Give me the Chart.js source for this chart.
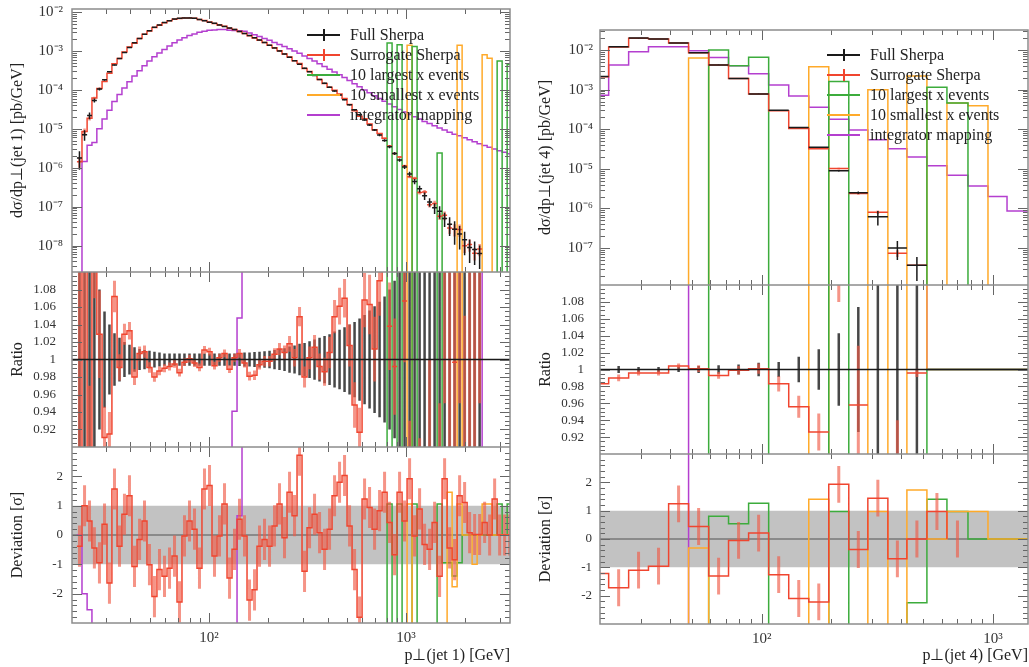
<!DOCTYPE html>
<html lang="en">
<head>
<meta charset="utf-8">
<title>Jet pT: full vs surrogate Sherpa</title>
<script src="https://cdn.jsdelivr.net/npm/chart.js@4.4.1/dist/chart.umd.min.js"></script>
<style>
  html, body { margin: 0; padding: 0; background: #fff; }
  body { position: relative; width: 1029px; height: 667px; overflow: hidden; font-family: "Liberation Serif", "Times New Roman", serif; }
  canvas { position: absolute; }
  .legend { position: absolute; font-size: 16px; color: #222; }
  .legend div { position: relative; height: 20px; line-height: 20px; padding-left: 43px; white-space: nowrap; }
  .legend i { position: absolute; left: 0; top: 9px; width: 33px; border-top: 2px solid; }
  .legend b { position: absolute; left: 16px; top: 4px; height: 12px; border-left: 2px solid; }
</style>
</head>
<body>
<canvas id="leftMain" width="512" height="272" style="left:0;top:0"></canvas>
<canvas id="leftRatio" width="512" height="175" style="left:0;top:272px"></canvas>
<canvas id="leftDev" width="512" height="220" style="left:0;top:447px"></canvas>
<canvas id="rightMain" width="501" height="285" style="left:528px;top:0"></canvas>
<canvas id="rightRatio" width="501" height="169" style="left:528px;top:285px"></canvas>
<canvas id="rightDev" width="501" height="213" style="left:528px;top:454px"></canvas>

<div class="legend" style="left:307px;top:25px">
  <div><i style="border-color:#1a1a1a"></i><b style="border-color:#1a1a1a"></b>Full Sherpa</div>
  <div><i style="border-color:#f0452f"></i><b style="border-color:#f0452f"></b>Surrogate Sherpa</div>
  <div><i style="border-color:#3cac3c"></i>10 largest x events</div>
  <div><i style="border-color:#ffaa2a"></i>10 smallest x events</div>
  <div><i style="border-color:#b43fcf"></i>integrator mapping</div>
</div>
<div class="legend" style="left:827px;top:45px">
  <div><i style="border-color:#1a1a1a"></i><b style="border-color:#1a1a1a"></b>Full Sherpa</div>
  <div><i style="border-color:#f0452f"></i><b style="border-color:#f0452f"></b>Surrogate Sherpa</div>
  <div><i style="border-color:#3cac3c"></i>10 largest x events</div>
  <div><i style="border-color:#ffaa2a"></i>10 smallest x events</div>
  <div><i style="border-color:#b43fcf"></i>integrator mapping</div>
</div>

<script>
// ---- jet 1 (left) : bin edges in GeV, values per bin ----
const leftEdges = [
  21.4, 22.7, 24.1, 25.5, 27.0, 28.7, 30.4, 32.2, 34.2, 36.2,
  38.4, 40.7, 43.2, 45.8, 48.5, 51.4, 54.5, 57.8, 61.3, 65.0,
  68.9, 73.0, 77.4, 82.1, 87.0, 92.2, 97.8, 103.7, 109.9, 116.5,
  123.6, 131.0, 138.9, 147.2, 156.1, 165.5, 175.4, 186.0, 197.2, 209.0,
  221.6, 234.9, 249.1, 264.1, 280.0, 296.8, 314.7, 333.6, 353.7, 375.0,
  397.6, 421.5, 446.9, 473.7, 502.2, 532.5, 564.5, 598.5, 634.5, 672.7,
  713.2, 756.1, 801.6, 849.8, 901.0, 955.2, 1012.7, 1073.7, 1138.3, 1206.8,
  1279.4, 1356.4, 1438.1, 1524.6, 1616.4, 1713.7, 1816.8, 1926.2, 2042.1, 2165.0,
  2295.3, 2433.5, 2580.0, 2735.2, 2899.9, 3074.4, 3259.5, 3455.7
];
const leftFull = [
  1.78e-6, 7.08e-6, 2.19e-5, 5.37e-5, 1.05e-4, 1.82e-4, 2.95e-4, 4.37e-4, 6.46e-4, 9.12e-4,
  1.23e-3, 1.62e-3, 2.09e-3, 2.69e-3, 3.31e-3, 4.07e-3, 4.68e-3, 5.37e-3, 6.03e-3, 6.61e-3,
  6.92e-3, 7.08e-3, 7.08e-3, 6.92e-3, 6.46e-3, 6.03e-3, 5.5e-3, 5.13e-3, 4.68e-3, 4.27e-3,
  3.89e-3, 3.55e-3, 3.16e-3, 2.82e-3, 2.51e-3, 2.19e-3, 1.91e-3, 1.66e-3, 1.41e-3, 1.2e-3,
  1.0e-3, 8.32e-4, 6.92e-4, 5.62e-4, 4.57e-4, 3.63e-4, 2.95e-4, 2.34e-4, 1.86e-4, 1.48e-4,
  1.17e-4, 9.33e-5, 7.41e-5, 5.62e-5, 4.17e-5, 3.09e-5, 2.29e-5, 1.7e-5, 1.26e-5, 9.33e-6,
  6.92e-6, 5.01e-6, 3.47e-6, 2.34e-6, 1.58e-6, 1.05e-6, 6.92e-7, 4.47e-7, 2.88e-7, 1.91e-7,
  1.32e-7, 9.33e-8, 7.59e-8, 5.01e-8, 3.55e-8, 2.63e-8, 2.0e-8, 1.41e-8, 8.91e-9, 7.94e-9,
  6.31e-9, 0, 0, 0, 0, 0, 0
];
const leftFullErr = [
  0.5, 0.3, 0.2, 0.12, 0.08, 0.055, 0.04, 0.03, 0.025, 0.02,
  0.017, 0.014, 0.012, 0.011, 0.01, 0.009, 0.008, 0.007, 0.007, 0.007,
  0.007, 0.007, 0.007, 0.007, 0.007, 0.007, 0.007, 0.007, 0.007, 0.007,
  0.007, 0.007, 0.0075, 0.008, 0.008, 0.0085, 0.009, 0.0095, 0.01, 0.011,
  0.012, 0.013, 0.015, 0.016, 0.018, 0.019, 0.021, 0.023, 0.025, 0.027,
  0.029, 0.032, 0.034, 0.037, 0.04, 0.043, 0.047, 0.051, 0.056, 0.061,
  0.066, 0.072, 0.08, 0.09, 0.1, 0.12, 0.14, 0.16, 0.19, 0.22,
  0.25, 0.3, 0.35, 0.4, 0.5, 0.6, 0.6, 0.6, 0.6, 0.6,
  0.6, 0, 0, 0, 0, 0, 0
];
const leftSurrRatio = [
  0.8, 1.2, 0.85, 1.15, 1.029, 0.911, 0.915, 1.072, 0.991, 1.029,
  1.033, 0.98, 1.007, 1.009, 0.991, 0.98, 0.987, 0.99, 0.992, 0.995,
  0.985, 0.997, 1.001, 0.996, 0.991, 1.011, 1.009, 0.993, 1.002, 1.007,
  0.989, 1.002, 1.007, 0.996, 0.981, 0.982, 0.994, 0.998, 0.998, 1.006,
  1.012, 1.008, 1.018, 1.002, 1.049, 0.98, 1.002, 1.014, 0.992, 0.986,
  1.008, 1.049, 1.061, 1.07, 1.016, 0.948, 0.917, 1.068, 1.063, 1.012,
  1.09, 1.15, 1.038, 0.992, 1.2, 1.067, 0.85, 1.2, 0.8, 1.25,
  0.85, 1.3, 0.75, 1.2, 0.8, 0.997, 1.3, 0.7, 1.2, 0.8,
  1.3, 1, 1, 1, 1, 1, 1
];
const leftSurrErr = [
  0.3, 0.2, 0.12, 0.08, 0.05, 0.035, 0.025, 0.018, 0.015, 0.012,
  0.01, 0.009, 0.008, 0.007, 0.006, 0.0055, 0.005, 0.0045, 0.0045, 0.0045,
  0.0045, 0.0045, 0.0045, 0.0045, 0.0045, 0.0045, 0.0045, 0.0045, 0.0045, 0.0045,
  0.0045, 0.0045, 0.005, 0.005, 0.005, 0.0055, 0.0055, 0.006, 0.006, 0.007,
  0.007, 0.008, 0.009, 0.01, 0.011, 0.012, 0.013, 0.014, 0.015, 0.016,
  0.018, 0.019, 0.021, 0.022, 0.024, 0.026, 0.028, 0.031, 0.034, 0.037,
  0.04, 0.045, 0.05, 0.055, 0.06, 0.07, 0.08, 0.1, 0.11, 0.13,
  0.15, 0.18, 0.2, 0.25, 0.3, 0.35, 0.35, 0.35, 0.35, 0.35,
  0.35, 0, 0, 0, 0, 0, 0
];
const leftSurrDev = [
  -0.38, 1.0, 0.48, -0.44, -0.95, 0.37, -1.64, 1.57, -0.38, 0.71,
  1.34, -1.07, -0.15, 0.48, -1.01, -2.1, -1.18, -1.41, -1.13, -0.72,
  -2.28, -0.03, 0.48, 0.2, -1.13, 1.57, 1.69, -0.72, -0.03, 1.06,
  -1.47, -0.49, 0.54, -0.03, -2.22, -1.87, -0.38, -0.15, -0.38, 0.31,
  1.06, -0.09, 1.46, 0.66, 2.72, -1.24, 0.25, 0.71, 0.08, -0.49,
  0.2, 1.34, 1.8, 2.03, 0.31, -1.18, -2.8, 1.23, 0.94, 0.2,
  0.83, 1.46, 0.43, -0.67, 1.46, 0.48, 1.92, -0.03, 0.89, -0.32,
  -0.49, 0.43, -1.41, 1.92, -0.44, -0.84, 1.34, 1.11, 0.08, 0.02,
  0.02, 0.43, 0.0, 1.23, 0.0, 0.0, 0.0
];
const leftLargest = [
  0, 0, 0, 0, 0, 0, 0, 0, 0, 0,
  0, 0, 0, 0, 0, 0, 0, 0, 0, 0,
  0, 0, 0, 0, 0, 0, 0, 0, 0, 0,
  0, 0, 0, 0, 0, 0, 0, 0, 0, 0,
  0, 0, 0, 0, 0, 0, 0, 0, 0, 0,
  0, 0, 0, 0, 0, 0, 0, 0, 0, 0,
  0, 0, 1.6e-3, 0, 1.45e-3, 0, 0, 1.3e-3, 0, 0,
  0, 0, 2.4e-6, 0, 0, 0, 0, 0, 0, 0,
  0, 0, 0, 0, 5.5e-4, 0, 4.5e-4
];
const leftSmallest = [
  0, 0, 0, 0, 0, 0, 0, 0, 0, 0,
  0, 0, 0, 0, 0, 0, 0, 0, 0, 0,
  0, 0, 0, 0, 0, 0, 0, 0, 0, 0,
  0, 0, 0, 0, 0, 0, 0, 0, 0, 0,
  0, 0, 0, 0, 0, 0, 0, 0, 0, 0,
  0, 0, 0, 0, 0, 0, 0, 0, 0, 0,
  0, 0, 0, 0, 0, 0, 1.4e-3, 0, 0, 0,
  0, 0, 0, 0, 0, 0, 1.4e-3, 0, 0, 0,
  0, 8.0e-4, 6.5e-4, 0, 0, 0, 0
];
const leftMapping = [
  0, 1.45e-6, 3.8e-6, 4.47e-6, 1.0e-5, 1.78e-5, 3.02e-5, 5.01e-5, 7.59e-5, 1.12e-4,
  1.62e-4, 2.29e-4, 3.09e-4, 4.17e-4, 5.5e-4, 7.08e-4, 8.91e-4, 1.1e-3, 1.35e-3, 1.62e-3,
  1.91e-3, 2.19e-3, 2.51e-3, 2.75e-3, 3.02e-3, 3.24e-3, 3.39e-3, 3.47e-3, 3.55e-3, 3.55e-3,
  3.4e-3, 3.34e-3, 3.31e-3, 3.2e-3, 2.9e-3, 2.6e-3, 2.35e-3, 2.1e-3, 1.88e-3, 1.66e-3,
  1.48e-3, 1.31e-3, 1.14e-3, 1.0e-3, 8.71e-4, 7.41e-4, 6.46e-4, 5.5e-4, 4.68e-4, 3.98e-4,
  3.39e-4, 2.88e-4, 2.45e-4, 2.09e-4, 1.74e-4, 1.45e-4, 1.2e-4, 1.0e-4, 8.51e-5, 7.08e-5,
  6.03e-5, 5.13e-5, 4.37e-5, 3.72e-5, 3.16e-5, 2.69e-5, 2.34e-5, 2.04e-5, 1.78e-5, 1.55e-5,
  1.38e-5, 1.2e-5, 1.05e-5, 9.33e-6, 8.13e-6, 7.24e-6, 6.61e-6, 5.89e-6, 5.25e-6, 4.68e-6,
  4.17e-6, 3.72e-6, 3.39e-6, 3.02e-6, 2.75e-6, 2.51e-6, 2.29e-6
];
// deviations in units of sigma; +-10 marks values far off the panel
const leftLargestDev = [
  -10, -10, -10, -10, -10, -10, -10, -10, -10, -10,
  -10, -10, -10, -10, -10, -10, -10, -10, -10, -10,
  -10, -10, -10, -10, -10, -10, -10, -10, -10, -10,
  -10, -10, -10, -10, -10, -10, -10, -10, -10, -10,
  -10, -10, -10, -10, -10, -10, -10, -10, -10, -10,
  -10, -10, -10, -10, -10, -10, -10, -10, -10, -10,
  -10, -10, 1.06, -10, 1.06, -10, -10, 1.06, -10, -10,
  -10, -10, 1.06, -0.95, -0.95, -1.4, -0.95, 0, 0, 0,
  0, 0, 0, 0, 1.06, 0, 1.06
];
const leftSmallestDev = [
  -10, -10, -10, -10, -10, -10, -10, -10, -10, -10,
  -10, -10, -10, -10, -10, -10, -10, -10, -10, -10,
  -10, -10, -10, -10, -10, -10, -10, -10, -10, -10,
  -10, -10, -10, -10, -10, -10, -10, -10, -10, -10,
  -10, -10, -10, -10, -10, -10, -10, -10, -10, -10,
  -10, -10, -10, -10, -10, -10, -10, -10, -10, -10,
  -10, -10, -10, -10, -10, -10, 1.06, -10, -10, -10,
  -10, -10, -10, -10, 1.46, -1.76, 1.06, 0, 0, -1.0,
  0, 1.06, 1.06, 0, 0, 0, 0
];
const leftMappingDev = [
  0, -2.0, -2.55, -10, -10, -10, -10, -10, -10, -10,
  -10, -10, -10, -10, -10, -10, -10, -10, -10, -10,
  -10, -10, -10, -10, -10, -10, -10, -10, -10, -10,
  -10, -10, 0.66, 10, 10, 10, 10, 10, 10, 10,
  10, 10, 10, 10, 10, 10, 10, 10, 10, 10,
  10, 10, 10, 10, 10, 10, 10, 10, 10, 10,
  10, 10, 10, 10, 10, 10, 10, 10, 10, 10,
  10, 10, 10, 10, 10, 10, 10, 10, 10, 10,
  10, 10, 10, 10, 10, 10, 10
];

// ---- jet 4 (right) ----
const rightEdges = [17.8, 21.8, 26.6, 32.4, 39.6, 48.3, 59.0, 71.9, 87.8, 107.2, 130.9, 159.8,
  195, 238, 287.7, 351.2, 424.4, 518, 632.3, 779.6, 951.4, 1150, 1417];
const rightFull = [2.15e-3, 1.2e-2, 2.0e-2, 1.9e-2, 1.5e-2, 8.5e-3, 4.2e-3, 1.9e-3, 7.8e-4, 3.0e-4, 1.1e-4,
  3.5e-5, 9.0e-6, 2.5e-6, 6.2e-7, 1.0e-7, 3.7e-8, 0, 0, 0, 0, 0];
const rightFullErr = [0.006, 0.004, 0.003, 0.003, 0.003, 0.004, 0.005, 0.006, 0.008, 0.009, 0.015,
  0.024, 0.043, 0.074, 0.4, 0.5, 0.6, 0, 0, 0, 0, 0];
const rightSurrRatio = [0.983, 0.99, 0.996, 0.996, 1.004, 1.001, 0.993, 0.999, 1.001, 0.983, 0.956,
  0.926, 1.13, 0.958, 1.3, 0.74, 0.996, null, null, null, null, null];
const rightSurrErr = [0.006, 0.004, 0.003, 0.003, 0.003, 0.004, 0.004, 0.005, 0.006, 0.009, 0.013,
  0.022, 0.05, 0.07, 0.1, 0.2, 0.005, 0, 0, 0, 0, 0];
const rightSurrDev = [-1.22, -1.72, -1.1, -0.96, 1.24, 0.44, -1.31, -0.05, 0.21, -1.26, -2.1,
  -2.22, 1.93, -0.37, 1.44, -0.7, 0.0, 0.97, 0, null, null, null];
const rightLargest = [0, 0, 0, 0, 0, 0, 1.0e-2, 4.0e-3, 6.6e-3, 0, 0,
  0, 1.6e-3, 0, 0, 0, 0, 1.15e-3, 4.6e-4, 0, 0, 0];
const rightSmallest = [0, 0, 0, 0, 0, 6.3e-3, 0, 0, 0, 0, 0,
  3.8e-3, 0, 0, 1.0e-3, 0, 2.2e-3, 0, 4.6e-4, 3.9e-4, 0, 0];
const rightMapping = [7.2e-4, 4.2e-3, 9.1e-3, 1.2e-2, 1.2e-2, 9.6e-3, 6.5e-3, 4.0e-3, 2.5e-3, 1.3e-3, 6.9e-4,
  3.6e-4, 1.8e-4, 9.5e-5, 5.4e-5, 3.2e-5, 2.0e-5, 1.2e-5, 6.9e-6, 3.7e-6, 2.0e-6, 8.6e-7];
const rightLargestDev = [-10, -10, -10, -10, -10, -10, 0.8, 0.54, 1.26, -10, -10,
  -10, 0.97, -10, -10, -10, -2.25, 1.4, 0.97, 0, 0, 0];
const rightSmallestDev = [-10, -10, -10, -10, -10, -0.32, -10, -10, -10, -10, -10,
  1.4, -10, -10, 0.97, -10, 1.73, 0, 0.97, 0.97, 0, 0];
const rightMappingDev = [-10, -10, -10, -10, -10, 10, 10, 10, 10, 10, 10,
  10, 10, 10, 10, 10, 10, 10, 10, 10, 10, 10];

// tick labels
const xLabelValues = [100, 1000];
const leftMainLabels = [1e-8, 1e-7, 1e-6, 1e-5, 1e-4, 1e-3, 1e-2];
const rightMainLabels = [1e-7, 1e-6, 1e-5, 1e-4, 1e-3, 1e-2];
const ratioLabels = [0.92, 0.94, 0.96, 0.98, 1, 1.02, 1.04, 1.06, 1.08];
const devLabels = [-2, -1, 0, 1, 2];

const COL = {
  full: '#1a1a1a', fullErr: 'rgba(25,25,25,0.8)',
  surr: '#f0452f', surrErr: 'rgba(240,90,70,0.65)',
  large: '#3cac3c', small: '#ffaa2a', map: '#b43fcf',
  band: '#c2c2c2', zero: '#777', frame: '#8c8c8c', tick: '#666'
};
const FLOOR = 1e-30;

Chart.defaults.font.family = '"Liberation Serif", "Times New Roman", serif';
Chart.defaults.color = '#333';

const SUP = { '-': '\u207b', '0': '\u2070', '1': '\u00b9', '2': '\u00b2', '3': '\u00b3', '4': '\u2074',
  '5': '\u2075', '6': '\u2076', '7': '\u2077', '8': '\u2078', '9': '\u2079' };
const pow10Label = v => '10' + String(Math.round(Math.log10(v))).split('').map(c => SUP[c]).join('');

function logTicks(lo, hi) {
  const t = [];
  for (let e = Math.floor(Math.log10(lo)); e <= Math.ceil(Math.log10(hi)); e++) {
    for (let m = 1; m <= 9; m++) {
      const v = m * Math.pow(10, e);
      if (v >= lo && v <= hi) t.push({ v, major: m === 1 });
    }
  }
  return t;
}
function linTicks(lo, hi, step, every) {
  const t = [];
  for (let i = Math.ceil(lo / step - 1e-9); i <= Math.floor(hi / step + 1e-9); i++) {
    t.push({ v: i * step, major: i % every === 0 });
  }
  return t;
}

// inner tick marks on all four sides plus the frame
function frame(xTicks, yTicks) {
  return {
    id: 'frameTicks',
    afterDraw(chart) {
      const { ctx, chartArea: a } = chart;
      const xs = chart.scales.x, ys = chart.scales.y;
      ctx.save();
      ctx.strokeStyle = COL.tick;
      ctx.lineWidth = 1;
      ctx.beginPath();
      xTicks.forEach(t => {
        const p = Math.round(xs.getPixelForValue(t.v)) + 0.5;
        if (p <= a.left + 1 || p >= a.right - 1) return;
        const len = t.major ? 10 : 5;
        ctx.moveTo(p, a.bottom); ctx.lineTo(p, a.bottom - len);
        ctx.moveTo(p, a.top); ctx.lineTo(p, a.top + len);
      });
      yTicks.forEach(t => {
        const p = Math.round(ys.getPixelForValue(t.v)) + 0.5;
        if (p <= a.top + 1 || p >= a.bottom - 1) return;
        const len = t.major ? 10 : 5;
        ctx.moveTo(a.left, p); ctx.lineTo(a.left + len, p);
        ctx.moveTo(a.right, p); ctx.lineTo(a.right - len, p);
      });
      ctx.stroke();
      ctx.strokeStyle = COL.frame;
      ctx.lineWidth = 1.5;
      ctx.strokeRect(a.left, a.top, a.right - a.left, a.bottom - a.top);
      ctx.restore();
    }
  };
}

// histogram outline: value of bin i from edge i to edge i+1
function stepPts(edges, vals) {
  const pts = vals.map((v, i) => ({ x: edges[i], y: v }));
  pts.push({ x: edges[vals.length], y: vals[vals.length - 1] });
  return pts;
}
// separate bin-wide marks
function flatPts(edges, vals) {
  const pts = [];
  vals.forEach((v, i) => {
    if (v == null) return;
    pts.push({ x: edges[i], y: v }, { x: edges[i + 1], y: v }, { x: edges[i + 1], y: null });
  });
  return pts;
}
// vertical error bars at bin centres
function errPts(edges, lo, hi) {
  const pts = [];
  lo.forEach((l, i) => {
    if (l == null || hi[i] == null) return;
    const c = Math.sqrt(edges[i] * edges[i + 1]);
    pts.push({ x: c, y: l }, { x: c, y: hi[i] }, { x: c, y: null });
  });
  return pts;
}
function line(data, color, width, order, extra) {
  return Object.assign({
    data, borderColor: color, backgroundColor: color, borderWidth: width,
    pointRadius: 0, pointHoverRadius: 0, fill: false, tension: 0, spanGaps: false,
    clip: 0, order, borderCapStyle: 'butt', borderJoinStyle: 'miter'
  }, extra || {});
}

function xScale(s, bottom) {
  const sc = { type: 'logarithmic', min: s.xMin, max: s.xMax, bounds: 'data', display: bottom,
    grid: { display: false, drawTicks: false }, border: { display: false } };
  if (bottom) {
    Object.assign(sc, {
      afterBuildTicks: a => { a.ticks = xLabelValues.map(v => ({ value: v })); },
      afterFit: a => { a.height = s.xAxisHeight; a.paddingLeft = 0; a.paddingRight = 0; },
      ticks: { autoSkip: false, maxRotation: 0, padding: 6, font: { size: 15 }, color: '#333',
        callback: v => pow10Label(v) },
      title: { display: true, text: s.xTitle, align: 'end', font: { size: 16 }, color: '#222',
        padding: { top: 0, bottom: 2 } }
    });
  }
  return sc;
}
function yScale(type, min, max, labels, fmt, title, pad, size) {
  return {
    type, min, max, bounds: 'data',
    grid: { display: false, drawTicks: false }, border: { display: false },
    afterBuildTicks: a => { a.ticks = labels.map(v => ({ value: v })); },
    afterFit: a => { a.width = 72; a.paddingTop = 0; a.paddingBottom = 0; },
    ticks: { autoSkip: false, padding: pad, font: { size }, color: '#333', callback: fmt },
    title: { display: true, text: title, font: { size: 16 }, color: '#222', padding: { top: 8, bottom: 0 } }
  };
}
function makeChart(id, datasets, padTop, padRight, x, y, xTicks, yTicks) {
  return new Chart(document.getElementById(id), {
    type: 'line',
    data: { datasets },
    options: {
      responsive: false, animation: false, events: [],
      layout: { padding: { top: padTop, right: padRight, bottom: 0, left: 0 } },
      plugins: { legend: { display: false }, tooltip: { enabled: false } },
      scales: { x, y }
    },
    plugins: [frame(xTicks, yTicks)]
  });
}

function drawSide(s) {
  const surr = s.full.map((f, i) => (s.surrRatio[i] == null ? null : f * s.surrRatio[i]));
  const rel = (v, i) => (s.full[i] > 0 ? v / s.full[i] : s.emptyRatio);
  const pos = v => (v > 0 ? v : FLOOR);
  const xTicks = logTicks(s.xMin, s.xMax);
  const step = { stepped: 'before' };

  const main = [
    line(flatPts(s.edges, s.full.map(v => (v > 0 ? v : null))), COL.full, 1.5, 0),
    line(errPts(s.edges,
      s.full.map((v, i) => (v > 0 ? Math.max(v * (1 - s.fullErr[i]), FLOOR) : null)),
      s.full.map((v, i) => v * (1 + s.fullErr[i]))), COL.full, 1.5, 1),
    line(stepPts(s.edges, surr.slice(0, s.joinEnd).map(pos)), COL.surr, 1.5, 2, step),
    line(flatPts(s.edges, surr.map((v, i) => (i >= s.joinEnd && v > 0 ? v : null))), COL.surr, 1.5, 2),
    line(errPts(s.edges,
      surr.map((v, i) => (v > 0 ? Math.max(v * (1 - s.surrErr[i]), FLOOR) : null)),
      surr.map((v, i) => (v > 0 ? v * (1 + s.surrErr[i]) : null))), COL.surrErr, 2.5, 3),
    line(stepPts(s.edges, s.largest.map(pos)), COL.large, 1.5, 4, step),
    line(stepPts(s.edges, s.smallest.map(pos)), COL.small, 1.5, 5, step),
    line(stepPts(s.edges, s.mapping.map(pos)), COL.map, 1.5, 6, step)
  ];
  makeChart(s.ids[0], main, s.mainTop, s.padRight, xScale(s, false),
    yScale('logarithmic', s.yMin, s.yMax, s.mainLabels, v => pow10Label(v), s.yTitle, s.mainPad, 15),
    xTicks, logTicks(s.yMin, s.yMax));

  const surrRatio = s.surrRatio.map((v, i) => (v != null && s.full[i] > 0 ? v : null));
  const ratio = [
    line([{ x: s.xMin, y: 1 }, { x: s.xMax, y: 1 }], COL.full, 1.5, 0),
    line(stepPts(s.edges, surrRatio.slice(0, s.joinEnd)), COL.surr, 1.5, 1, step),
    line(flatPts(s.edges, surrRatio.map((v, i) => (i >= s.joinEnd ? v : null))), COL.surr, 1.5, 1),
    line(errPts(s.edges,
      surrRatio.map((v, i) => (v == null ? null : v - s.surrErr[i])),
      surrRatio.map((v, i) => (v == null ? null : v + s.surrErr[i]))), COL.surrErr, 3, 2),
    line(errPts(s.edges, s.fullErr.map(e => (e > 0 ? 1 - e : null)), s.fullErr.map(e => 1 + e)),
      COL.fullErr, 2.5, 3),
    line(stepPts(s.edges, s.largest.map(rel)), COL.large, 1.5, 4, step),
    line(stepPts(s.edges, s.smallest.map(rel)), COL.small, 1.5, 5, step),
    line(stepPts(s.edges, s.mapping.map(rel)), COL.map, 1.5, 6, step)
  ];
  makeChart(s.ids[1], ratio, 0, s.padRight, xScale(s, false),
    yScale('linear', 0.9, 1.1, ratioLabels, v => (v === 1 ? '1' : v.toFixed(2)), 'Ratio', s.ratioPad, 13),
    xTicks, linTicks(0.9, 1.1, 0.005, 4));

  const dev = [
    line(stepPts(s.edges, s.surrDev), COL.surr, 1.5, 0, step),
    line(errPts(s.edges, s.surrDev.map(v => (v == null ? null : v - s.devErr)),
      s.surrDev.map(v => (v == null ? null : v + s.devErr))), COL.surrErr, 3, 1),
    line(stepPts(s.edges, s.smallestDev), COL.small, 1.5, 2, step),
    line(stepPts(s.edges, s.largestDev), COL.large, 1.5, 3, step),
    line(stepPts(s.edges, s.mappingDev), COL.map, 1.5, 4, step),
    line([{ x: s.xMin, y: 0 }, { x: s.xMax, y: 0 }], COL.zero, 1.5, 5),
    line([{ x: s.xMin, y: 1 }, { x: s.xMax, y: 1 }], 'rgba(0,0,0,0)', 1, 6,
      { fill: '+1', backgroundColor: COL.band }),
    line([{ x: s.xMin, y: -1 }, { x: s.xMax, y: -1 }], 'rgba(0,0,0,0)', 1, 7)
  ];
  makeChart(s.ids[2], dev, 0, s.padRight, xScale(s, true),
    yScale('linear', -3, 3, devLabels, v => String(v), 'Deviation [\u03c3]', s.devPad, 13),
    xTicks, linTicks(-3, 3, 0.2, 5));
}

drawSide({
  ids: ['leftMain', 'leftRatio', 'leftDev'],
  edges: leftEdges, full: leftFull, fullErr: leftFullErr,
  surrRatio: leftSurrRatio, surrErr: leftSurrErr, surrDev: leftSurrDev, devErr: 0.7,
  largest: leftLargest, smallest: leftSmallest, mapping: leftMapping,
  largestDev: leftLargestDev, smallestDev: leftSmallestDev, mappingDev: leftMappingDev,
  joinEnd: 62, emptyRatio: 0,
  xMin: 20.2, xMax: 3370, yMin: 2.1e-9, yMax: 1.2e-2, mainLabels: leftMainLabels,
  mainTop: 9, padRight: 2, xAxisHeight: 44, mainPad: 9, ratioPad: 16, devPad: 9,
  yTitle: 'd\u03c3/dp\u22a5(jet 1) [pb/GeV]', xTitle: 'p\u22a5(jet 1) [GeV]'
});
drawSide({
  ids: ['rightMain', 'rightRatio', 'rightDev'],
  edges: rightEdges, full: rightFull, fullErr: rightFullErr,
  surrRatio: rightSurrRatio, surrErr: rightSurrErr, surrDev: rightSurrDev, devErr: 0.65,
  largest: rightLargest, smallest: rightSmallest, mapping: rightMapping,
  largestDev: rightLargestDev, smallestDev: rightSmallestDev, mappingDev: rightMappingDev,
  joinEnd: 12, emptyRatio: 1,
  xMin: 20, xMax: 1417, yMin: 1.17e-8, yMax: 3.2e-2, mainLabels: rightMainLabels,
  mainTop: 30, padRight: 1, xAxisHeight: 43, mainPad: 7, ratioPad: 16, devPad: 8,
  yTitle: 'd\u03c3/dp\u22a5(jet 4) [pb/GeV]', xTitle: 'p\u22a5(jet 4) [GeV]'
});
</script>
</body>
</html>
